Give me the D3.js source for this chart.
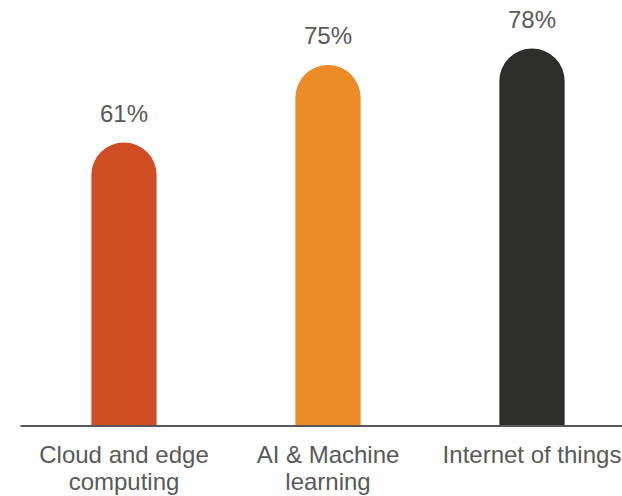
<!DOCTYPE html>
<html>
<head>
<meta charset="utf-8">
<script src="https://cdn.jsdelivr.net/npm/d3@7/dist/d3.min.js"></script>
<style>
  html, body { margin: 0; padding: 0; background: #ffffff; }
  svg { display: block; }
  text { font-family: "Liberation Sans", Arial, sans-serif; fill: #595959; }
</style>
</head>
<body>
<svg id="chart" width="622" height="496"></svg>
<script>
// Technology adoption shares
const categories = ["Cloud and edge computing", "AI & Machine learning", "Internet of things"];
const labelLines = [["Cloud and edge", "computing"], ["AI & Machine", "learning"], ["Internet of things"]];
const values = [61, 75, 78];
const colors = ["#D04D26", "#EB8C26", "#2D2D2B"];

const W = 622, H = 496;
const baseY = 426;

const svg = d3.select("#chart");

const x = d3.scaleBand()
  .domain(categories)
  .range([22, 634])
  .paddingInner(0.68)
  .paddingOuter(0.34);

// value axis starts above zero so the bars sit on the baseline
const y = d3.scaleLinear()
  .domain([10, 80])
  .range([424.5, 37.4]);

const bw = x.bandwidth();
const r = bw / 2;

// rounded-top bars: straight sides down to the baseline, semicircular cap
function barPath(d, i) {
  const x0 = x(categories[i]);
  const top = y(d);
  const cy = top + r;
  return `M${x0},${baseY} L${x0},${cy} A${r},${r} 0 0 1 ${x0 + bw},${cy} L${x0 + bw},${baseY} Z`;
}

svg.append("g")
  .selectAll("path")
  .data(values)
  .join("path")
  .attr("d", barPath)
  .attr("fill", (d, i) => colors[i]);

// value labels above each bar
svg.append("g")
  .selectAll("text")
  .data(values)
  .join("text")
  .attr("x", (d, i) => x(categories[i]) + bw / 2)
  .attr("y", d => y(d) - 20.6)
  .attr("text-anchor", "middle")
  .attr("font-size", 24)
  .text(d => d + "%");

// baseline
svg.append("line")
  .attr("x1", 20.5)
  .attr("x2", W)
  .attr("y1", baseY)
  .attr("y2", baseY)
  .attr("stroke", "#595959")
  .attr("stroke-width", 2);

// category labels
const cat = svg.append("g")
  .selectAll("text")
  .data(categories)
  .join("text")
  .attr("x", d => x(d) + bw / 2)
  .attr("y", 463.3)
  .attr("text-anchor", "middle")
  .attr("font-size", 24);

cat.each(function(d, i) {
  const t = d3.select(this);
  labelLines[i].forEach((line, j) => {
    t.append("tspan")
      .attr("x", x(d) + bw / 2)
      .attr("dy", j === 0 ? 0 : 26.7)
      .text(line);
  });
});
</script>
</body>
</html>
